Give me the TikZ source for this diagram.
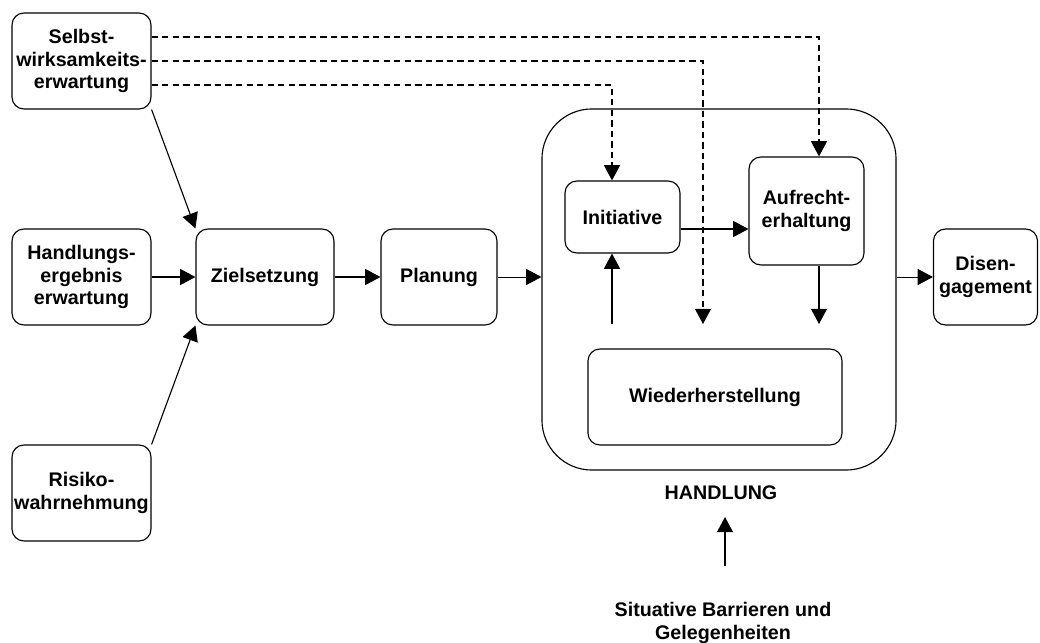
\documentclass[tikz,border=0pt]{standalone}
\usepackage{fontspec}
\setmainfont{Liberation Sans}
\usetikzlibrary{arrows.meta}

\tikzset{
	box/.style={draw, rounded corners=0.3cm, line width=0.8pt, align=center, inner sep=0pt,
		font=\bfseries\fontsize{14}{16.3}\selectfont},
	lbl/.style={align=center, inner sep=0pt, font=\bfseries\fontsize{14}{16.3}\selectfont},
	arr/.style={-{Triangle[length=0.38cm,width=0.4cm]}, line width=0.8pt},
	thinarr/.style={arr, line width=0.5pt},
	dasharr/.style={arr, dash pattern=on 4.5pt off 3pt},
}

\begin{document}
\begin{tikzpicture}[x=0.025cm, y=-0.025cm]
		\useasboundingbox (0,0) rectangle (1040,643);
		
		\node[box, rounded corners=1.25cm, minimum width=8.85cm, minimum height=9.025cm] (handlung) at (719,289.5) {};
		
		\node[box, minimum width=3.475cm, minimum height=2.4cm] (selbst) at (81.5,61) {Selbst-\\wirksamkeits-\\erwartung};
		\node[box, minimum width=3.475cm, minimum height=2.4cm] (ergebnis) at (81.5,277) {Handlungs-\\ergebnis\\erwartung};
		\node[box, minimum width=3.475cm, minimum height=2.4cm] (risiko) at (81.5,493) {Risiko-\\wahrnehmung};
		\node[box, minimum width=3.45cm, minimum height=2.4cm] (ziel) at (265,277) {Zielsetzung};
		\node[box, minimum width=2.9cm, minimum height=2.4cm] (planung) at (439,277) {Planung};
		\node[box, minimum width=2.875cm, minimum height=1.8cm] (init) at (622.5,217) {Initiative};
		\node[box, minimum width=2.875cm, minimum height=2.7cm] (aufr) at (806.5,211) {Aufrecht-\\erhaltung};
		\node[box, minimum width=6.35cm, minimum height=2.4cm] (wieder) at (715,397) {Wiederherstellung};
		\node[box, minimum width=2.6cm, minimum height=2.4cm] (diseng) at (985.5,277) {Disen-\\gagement};
		
		\node[lbl] (hlabel) at (721,493) {HANDLUNG};
		\node[lbl] (situ) at (723,623) {Situative Barrieren und\\Gelegenheiten};
		
		\coordinate (DA) at (819,37);
		\coordinate (DB) at (703,61);
		\coordinate (DBend) at (703,324);
		\coordinate (DC) at (612,85);
		\coordinate (IA) at (612,324);
		\coordinate (IB) at (680,229);
		\coordinate (AD) at (819,324);
		\coordinate (SA) at (725,566);
		\coordinate (SB) at (725,517);
		
		% dashed influence of Selbstwirksamkeit
		\draw[dasharr] (selbst.east |- DA) -- (DA) -- (aufr.north -| DA);
		\draw[dasharr] (selbst.east |- DB) -- (DB) -- (DBend);
		\draw[dasharr] (selbst.east |- DC) -- (DC) -- (init.north -| DC);
		
		\foreach \s/\t in {ergebnis/ziel, ziel/planung} {
			\draw[arr] (\s) -- (\t);
		}
		\foreach \s/\t in {planung/handlung, handlung/diseng} {
			\draw[thinarr] (\s.east |- ziel) -- (\t.west |- ziel);
		}
		\draw[arr] (selbst.south east) -- (ziel.north west);
		\draw[arr] (risiko.north east) -- (ziel.south west);
		
		\draw[arr] (init.east |- IB) -- (aufr.west |- IB);
		\draw[arr] (IA) -- (init.south -| IA);
		\draw[arr] (aufr.south -| AD) -- (AD);
		\draw[arr] (SA) -- (SB);
	
	\end{tikzpicture}
\end{document}
